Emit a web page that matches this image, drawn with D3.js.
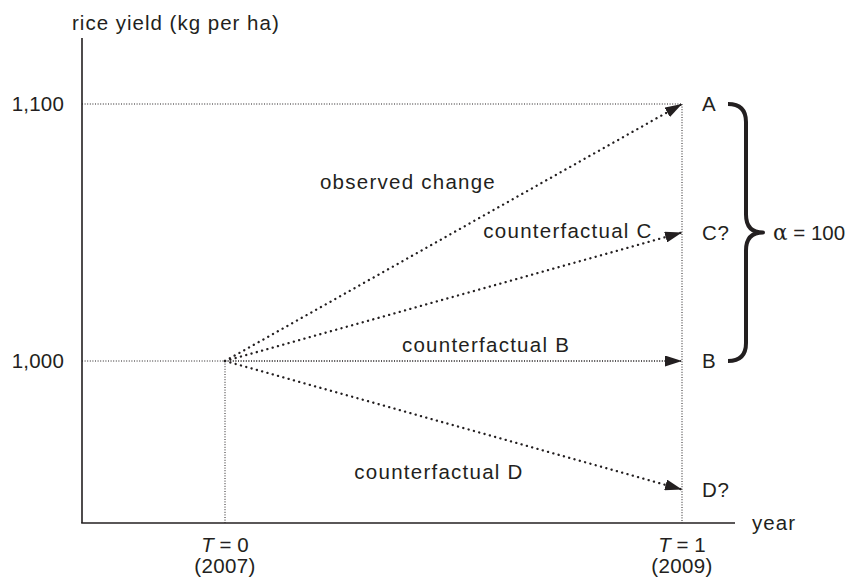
<!DOCTYPE html>
<html>
<head>
<meta charset="utf-8">
<script src="https://cdn.jsdelivr.net/npm/d3@7/dist/d3.min.js"></script>
<style>
  html, body { margin: 0; padding: 0; background: #fff; }
  svg { display: block; }
  text { font-family: "Liberation Sans", Arial, Helvetica, sans-serif; fill: #231f20; }
</style>
</head>
<body>
<svg id="chart" width="849" height="580"></svg>
<script>
// ---- data ----
const periodLabels = ["T", "T"];          // italic symbol
const periodValues = [0, 1];
const periodYears = ["(2007)", "(2009)"];
const yTickValues = [1000, 1100];
const baseline = 1000;
const outcomeNames = ["A", "C?", "B", "D?"];
const outcomeValues = [1100, 1050, 1000, 950];
const arrowLabels = ["observed change", "counterfactual C", "counterfactual B", "counterfactual D"];
const alphaValue = 100;
const yAxisTitle = "rice yield (kg per ha)";
const xAxisTitle = "year";

// ---- layout ----
const svg = d3.select("#chart");
const ink = "#231f20";
const fs = 20.5;
const x = d3.scaleLinear().domain([0, 1]).range([225, 682]);
const y = d3.scaleLinear().domain([1000, 1100]).range([361, 104]);
const axisLeftX = 82, axisBottomY = 523, axisTopY = 38, axisRightX = 735;

// arrow marker
const defs = svg.append("defs");
defs.append("marker")
  .attr("id", "head")
  .attr("viewBox", "0 0 17 11")
  .attr("refX", 17).attr("refY", 5.5)
  .attr("markerWidth", 17).attr("markerHeight", 11)
  .attr("markerUnits", "userSpaceOnUse")
  .attr("orient", "auto")
  .append("path").attr("d", "M0,0 L17,5.5 L0,11 Z").attr("fill", ink);

// guide lines (fine dotted)
const guide = svg.append("g").attr("stroke", ink).attr("stroke-width", 1).attr("stroke-dasharray", "1 1.6").attr("fill", "none");
yTickValues.forEach(v => {
  guide.append("line").attr("x1", axisLeftX).attr("x2", x(1)).attr("y1", y(v)).attr("y2", y(v));
});
guide.append("line").attr("x1", x(0)).attr("x2", x(0)).attr("y1", y(baseline)).attr("y2", axisBottomY);
guide.append("line").attr("x1", x(1)).attr("x2", x(1)).attr("y1", y(d3.max(outcomeValues))).attr("y2", axisBottomY);

// axes lines
svg.append("line").attr("x1", axisLeftX).attr("x2", axisLeftX).attr("y1", axisTopY).attr("y2", axisBottomY)
  .attr("stroke", ink).attr("stroke-width", 1.6);
svg.append("line").attr("x1", axisLeftX - 0.8).attr("x2", axisRightX).attr("y1", axisBottomY).attr("y2", axisBottomY)
  .attr("stroke", ink).attr("stroke-width", 1.6);

// y axis tick labels
const yAxis = d3.axisLeft(y).tickValues(yTickValues).tickFormat(d3.format(",")).tickSize(0).tickPadding(18);
const yg = svg.append("g").attr("transform", `translate(${axisLeftX},0)`).call(yAxis);
yg.select(".domain").remove();
yg.selectAll("text").attr("font-size", fs).attr("fill", ink).style("letter-spacing", "0.2px")
  .attr("font-family", "Liberation Sans, Arial, sans-serif");

// x tick labels
periodValues.forEach((v, i) => {
  const t = svg.append("text").attr("x", x(v)).attr("y", 545).attr("dy", "0.35em")
    .attr("text-anchor", "middle").attr("font-size", fs);
  t.append("tspan").attr("font-style", "italic").text(periodLabels[i]);
  t.append("tspan").text(" = " + v);
  svg.append("text").attr("x", x(v)).attr("y", 566).attr("dy", "0.35em")
    .attr("text-anchor", "middle").attr("font-size", fs).style("letter-spacing", "0.4px").text(periodYears[i]);
});

// axis titles
svg.append("text").attr("x", 72).attr("y", 23).attr("dy", "0.35em").attr("font-size", fs)
  .style("letter-spacing", "1px").text(yAxisTitle);
svg.append("text").attr("x", 752).attr("y", 523).attr("dy", "0.35em").attr("font-size", fs)
  .style("letter-spacing", "1.1px").text(xAxisTitle);

// arrows
const arrows = svg.append("g").attr("fill", "none").attr("stroke", ink);
outcomeValues.forEach((v, i) => {
  const isBase = v === baseline;
  arrows.append("line")
    .attr("x1", x(0)).attr("y1", y(baseline))
    .attr("x2", x(1)).attr("y2", y(v))
    .attr("stroke-width", isBase ? 1 : 2.3)
    .attr("stroke-linecap", isBase ? "butt" : "round")
    .attr("stroke-dasharray", isBase ? "1 1.6" : "0.1 5.4")
    .attr("marker-end", "url(#head)");
});

// outcome labels
outcomeValues.forEach((v, i) => {
  svg.append("text").attr("x", 702).attr("y", y(v)).attr("dy", "0.35em")
    .attr("font-size", fs).style("letter-spacing", "0.6px").text(outcomeNames[i]);
});

// arrow labels (order matches outcomeValues: A, C, B, D)
const labelPos = [[408, 182], [568, 231], [486, 345], [439, 472]];
arrowLabels.forEach((s, i) => {
  svg.append("text").attr("x", labelPos[i][0]).attr("y", labelPos[i][1]).attr("dy", "0.35em")
    .attr("text-anchor", "middle").attr("font-size", fs).style("letter-spacing", "1.25px").text(s);
});

// brace between A and B
const yTop = y(outcomeValues[0]), yBot = y(baseline), yMid = (yTop + yBot) / 2;
const bx0 = 728, bx1 = 746, bx2 = 763, r = 18;
const bracePath = `M${bx0},${yTop} Q${bx1},${yTop} ${bx1},${yTop + r} L${bx1},${yMid - r} Q${bx1},${yMid} ${bx2},${yMid}` +
  ` Q${bx1},${yMid} ${bx1},${yMid + r} L${bx1},${yBot - r} Q${bx1},${yBot} ${bx0},${yBot}`;
svg.append("path").attr("d", bracePath).attr("fill", "none").attr("stroke", ink)
  .attr("stroke-width", 4).attr("stroke-linecap", "butt").attr("stroke-linejoin", "round");

const alpha = svg.append("text").attr("x", 773).attr("y", yMid).attr("dy", "0.35em").attr("font-size", fs);
alpha.append("tspan").attr("font-size", fs * 1.05).attr("font-family", "DejaVu Serif, serif").text("\u03b1");
alpha.append("tspan").text(" = " + alphaValue);
</script>
</body>
</html>
